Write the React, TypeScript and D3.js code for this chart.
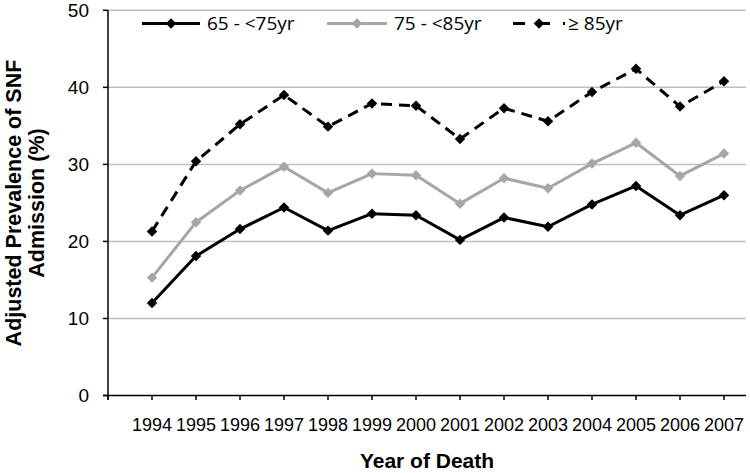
import React from "react";
import * as d3 from "d3";

const years = [1994, 1995, 1996, 1997, 1998, 1999, 2000, 2001, 2002, 2003, 2004, 2005, 2006, 2007];
const age65to75 = [12.0, 18.1, 21.6, 24.4, 21.4, 23.6, 23.4, 20.2, 23.1, 21.9, 24.8, 27.2, 23.4, 26.0];
const age75to85 = [15.3, 22.5, 26.6, 29.7, 26.3, 28.8, 28.6, 24.9, 28.2, 26.9, 30.1, 32.8, 28.5, 31.4];
const age85plus = [21.3, 30.4, 35.2, 39.0, 34.9, 37.9, 37.6, 33.3, 37.3, 35.6, 39.4, 42.4, 37.5, 40.8];
const yTicks = [0, 10, 20, 30, 40, 50];
const seriesNames = ["65 - <75yr", "75 - <85yr", "\u2265 85yr"];

const W = 750;
const H = 473;

export default function App() {
  const x = d3.scaleLinear().domain([1993, 2007.5]).range([108, 746]);
  const y = d3.scaleLinear().domain([0, 50]).range([395.5, 10.3]);

  const series = [
    { name: seriesNames[0], values: age65to75, color: "#000000", dash: undefined as string | undefined, marker: "#000000" },
    { name: seriesNames[1], values: age75to85, color: "#a6a6a6", dash: undefined as string | undefined, marker: "#a6a6a6" },
    { name: seriesNames[2], values: age85plus, color: "#000000", dash: "11,7", marker: "#000000" },
  ];

  const line = d3
    .line<[number, number]>()
    .x((d) => x(d[0]))
    .y((d) => y(d[1]));

  const diamond = d3.symbol().type(d3.symbolDiamond2).size(70)();

  const legendItems = [
    { lx1: 142, lx2: 200, tx: 207 },
    { lx1: 327, lx2: 387, tx: 394 },
    { lx1: 513, lx2: 565, tx: 568 },
  ];
  const legendY = 23.5;

  const tickYears = [1993, ...years];

  return (
    <svg width={W} height={H} style={{ position: "absolute", left: 0, top: 0, background: "#fff" }}>
      <rect x={0} y={0} width={W} height={H} fill="#fff" />
      {/* gridlines */}
      {yTicks.filter((t) => t > 0).map((t) => (
        <line key={"g" + t} x1={108} x2={746} y1={y(t)} y2={y(t)} stroke="#c0c0c0" strokeWidth={1.5} />
      ))}
      {/* y axis */}
      <line x1={108} x2={108} y1={y(50)} y2={y(0) + 4} stroke="#000" strokeWidth={1.5} />
      {yTicks.map((t) => (
        <g key={"yt" + t}>
          <line x1={103} x2={108} y1={y(t)} y2={y(t)} stroke="#000" strokeWidth={1.5} />
          <text
            x={89}
            y={y(t)}
            dy="0.36em"
            textAnchor="end"
            fontFamily="'Liberation Sans', Arial, sans-serif"
            fontSize={19}
            fill="#000"
          >
            {t}
          </text>
        </g>
      ))}
      {/* x axis */}
      <line x1={103} x2={746} y1={y(0)} y2={y(0)} stroke="#000" strokeWidth={1.5} />
      {tickYears.map((yr) => (
        <line key={"xt" + yr} x1={x(yr)} x2={x(yr)} y1={y(0)} y2={y(0) + 4.5} stroke="#000" strokeWidth={1.5} />
      ))}
      {years.map((yr) => (
        <text
          key={"xl" + yr}
          x={x(yr)}
          y={431}
          textAnchor="middle"
          fontFamily="'Liberation Sans', Arial, sans-serif"
          fontSize={18}
          fill="#000"
        >
          {yr}
        </text>
      ))}
      {/* axis titles */}
      <text
        x={427}
        y={467.5}
        textAnchor="middle"
        fontFamily="'Liberation Sans', Arial, sans-serif"
        fontWeight="bold"
        fontSize={21}
        fill="#000"
      >
        Year of Death
      </text>
      <g transform="translate(0,203) rotate(-90)">
        <text
          x={0}
          y={21}
          textAnchor="middle"
          fontFamily="'Liberation Sans', Arial, sans-serif"
          fontWeight="bold"
          fontSize={21.5}
          fill="#000"
        >
          Adjusted Prevalence of SNF
        </text>
        <text
          x={0}
          y={44}
          textAnchor="middle"
          fontFamily="'Liberation Sans', Arial, sans-serif"
          fontWeight="bold"
          fontSize={21.5}
          fill="#000"
        >
          Admission (%)
        </text>
      </g>
      {/* series */}
      {series.map((s, i) => {
        const pts: [number, number][] = years.map((yr, j) => [yr, s.values[j]]);
        return (
          <g key={"s" + i}>
            <path d={line(pts) || ""} fill="none" stroke={s.color} strokeWidth={3} strokeDasharray={s.dash} strokeLinejoin="round" />
            {pts.map((p, j) => (
              <path key={j} d={diamond || ""} transform={`translate(${x(p[0])},${y(p[1])})`} fill={s.marker} />
            ))}
          </g>
        );
      })}
      {/* legend */}
      {series.map((s, i) => {
        const li = legendItems[i];
        return (
          <g key={"lg" + i}>
            <line x1={li.lx1} x2={li.lx2} y1={legendY} y2={legendY} stroke={s.color} strokeWidth={3} strokeDasharray={s.dash ? "12,13" : undefined} />
            <path d={diamond || ""} transform={`translate(${(li.lx1 + li.lx2) / 2},${legendY})`} fill={s.marker} />
            <text
              x={li.tx}
              y={legendY}
              dy="0.35em"
              fontFamily="'Open Sans', sans-serif"
              fontSize={19}
              fill="#000"
            >
              {s.name}
            </text>
          </g>
        );
      })}
    </svg>
  );
}
